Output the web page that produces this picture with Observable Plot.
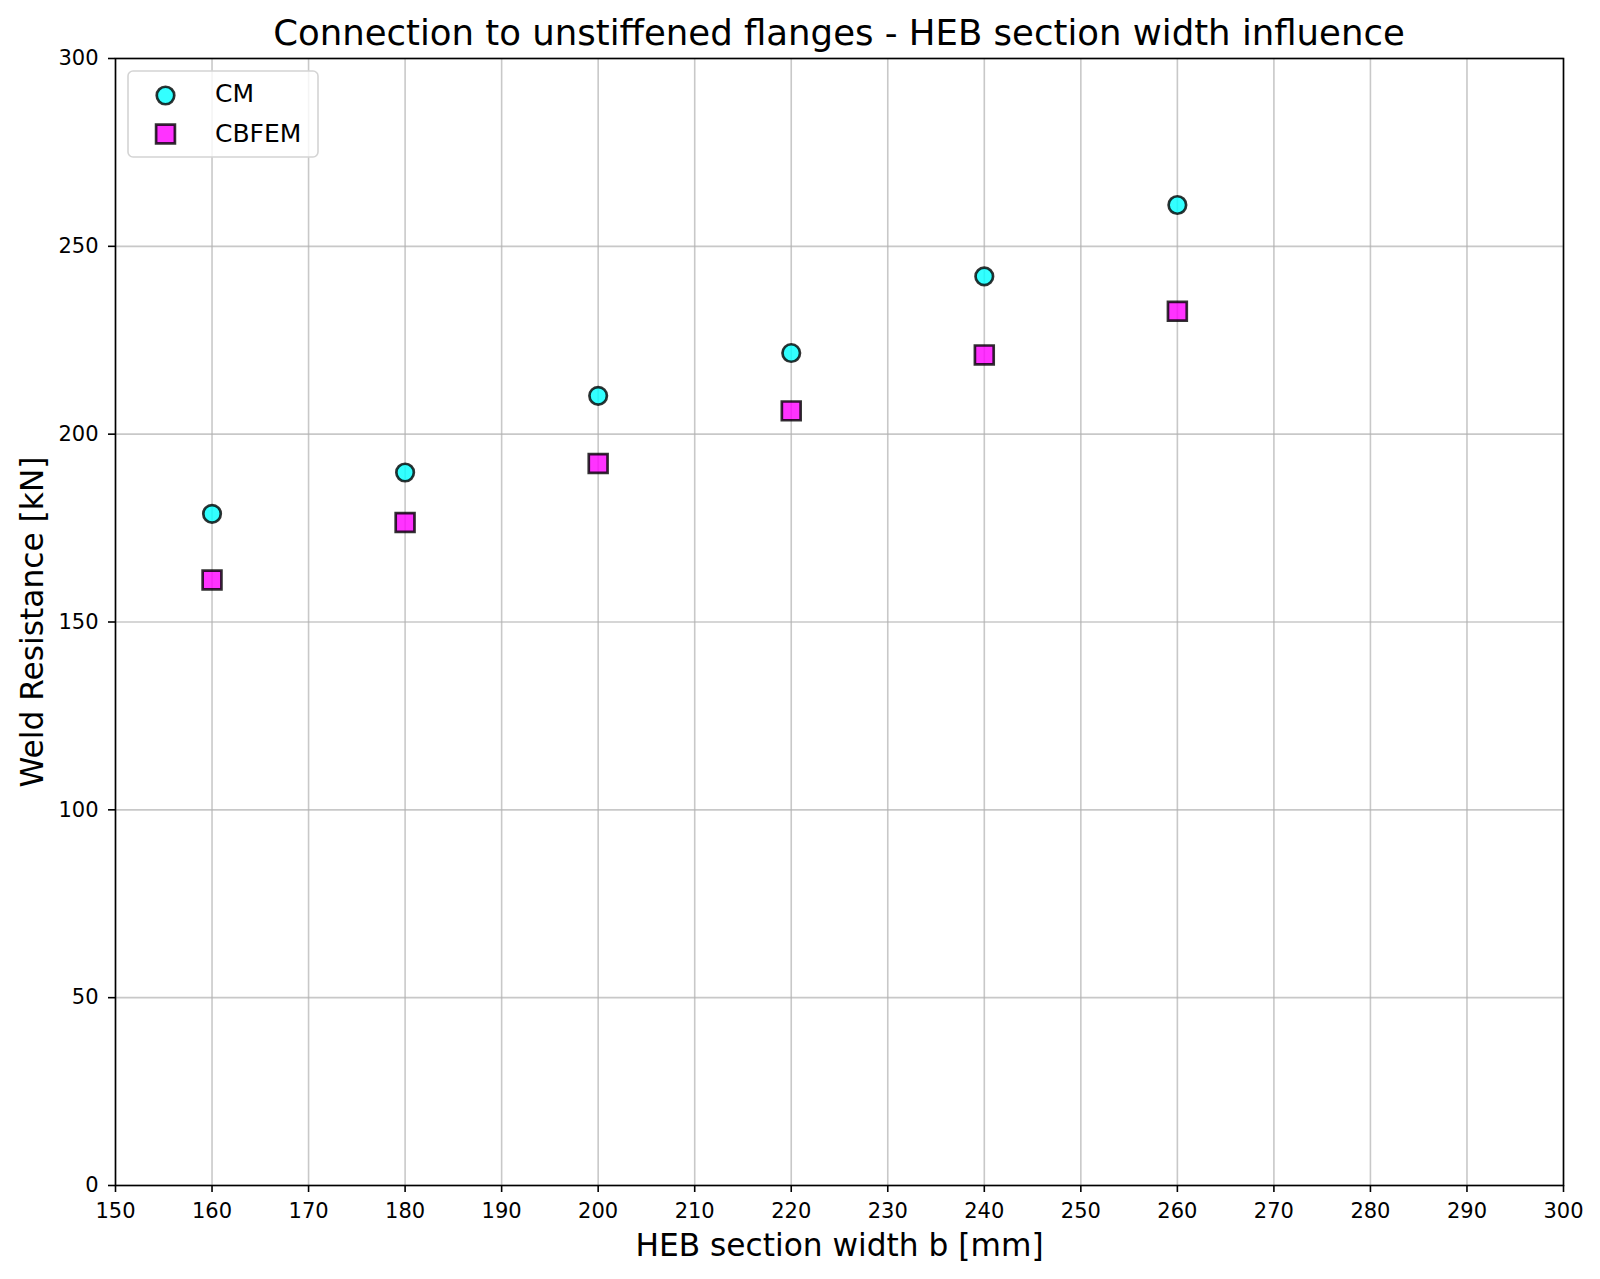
<!DOCTYPE html>
<html><head><meta charset="utf-8">
<script src="https://cdn.jsdelivr.net/npm/d3@7"></script>
<script src="https://cdn.jsdelivr.net/npm/@observablehq/plot@0.6"></script>
<style>
body{margin:0;background:#fff;font-family:"DejaVu Sans",sans-serif;}
#wrap{position:relative;width:1600px;height:1279px;}
#title{box-sizing:border-box;height:40px;padding-top:15px;padding-left:115px;width:1563px;text-align:center;font-size:35.5px;line-height:35.5px;color:#000;white-space:nowrap;overflow:visible;}
#legend{position:absolute;left:127px;top:70px;}
</style></head><body>
<div id="wrap"><div id="title">Connection to unstiffened flanges - HEB section width influence</div><div id="chart"></div><div id="legend"></div></div>
<script>
const widths = [160, 180, 200, 220, 240, 260];
const cmValues = [178.8, 189.8, 210.2, 221.6, 242.0, 261.0];
const cbfemValues = [161.2, 176.5, 192.2, 206.2, 221.1, 232.7];
const xTicks = [150,160,170,180,190,200,210,220,230,240,250,260,270,280,290,300];
const yTicks = [0,50,100,150,200,250,300];
const seriesNames = ["CM", "CBFEM"];

const cmData = widths.map((w,i) => ({b: w, v: cmValues[i]}));
const cbData = widths.map((w,i) => ({b: w, v: cbfemValues[i]}));

const gridStyle = {stroke: "#b0b0b0", strokeOpacity: 0.7, strokeWidth: 1.6};
const chart = Plot.plot({
  width: 1600, height: 1239,
  marginTop: 18, marginBottom: 94, marginLeft: 115, marginRight: 37,
  style: {fontFamily: "DejaVu Sans", fontSize: "21px", background: "white", color: "black"},
  x: {domain: [150, 300]},
  y: {domain: [0, 300]},
  marks: [
    Plot.gridX(xTicks, gridStyle),
    Plot.gridY(yTicks, gridStyle),
    Plot.dot(cmData, {x: "b", y: "v", symbol: "circle", r: 8.75, fill: "cyan", fillOpacity: 0.8, stroke: "black", strokeOpacity: 0.8, strokeWidth: 2.7}),
    Plot.dot(cbData, {x: "b", y: "v", symbol: "square", r: 10.6, fill: "magenta", fillOpacity: 0.8, stroke: "black", strokeOpacity: 0.8, strokeWidth: 2.7}),
    Plot.axisX(xTicks, {tickSize: 7, tickPadding: 11, strokeWidth: 1.6, label: null, fontSize: 21}),
    Plot.axisY(yTicks, {tickSize: 7, tickPadding: 10, strokeWidth: 1.6, label: null, fontSize: 21}),
    Plot.frame({stroke: "black", strokeWidth: 1.6}),
    Plot.text(["HEB section width b [mm]"], {text: d => d, frameAnchor: "bottom", textAnchor: "middle", dy: 70, lineAnchor: "bottom", fontSize: 31.25}),
    Plot.text(["Weld Resistance [kN]"], {text: d => d, frameAnchor: "left", textAnchor: "middle", dx: -73, rotate: -90, lineAnchor: "bottom", fontSize: 31.25})
  ]
});
document.getElementById("chart").appendChild(chart);

// legend
const lg = d3.select("#legend").append("svg").attr("width", 194).attr("height", 90)
  .style("font-family", "DejaVu Sans");
lg.append("rect").attr("x", 1).attr("y", 1).attr("width", 190).attr("height", 86).attr("rx", 5)
  .attr("fill", "white").attr("fill-opacity", 0.8).attr("stroke", "#d4d4d4").attr("stroke-width", 1.6);
lg.append("circle").attr("cx", 38.5).attr("cy", 25.5).attr("r", 8.75)
  .attr("fill", "cyan").attr("fill-opacity", 0.8).attr("stroke", "black").attr("stroke-opacity", 0.8).attr("stroke-width", 2.7);
lg.append("rect").attr("x", 38.5 - 9.4).attr("y", 64 - 9.4).attr("width", 18.8).attr("height", 18.8)
  .attr("fill", "magenta").attr("fill-opacity", 0.8).attr("stroke", "black").attr("stroke-opacity", 0.8).attr("stroke-width", 2.7);
lg.append("text").attr("x", 88).attr("y", 32).attr("font-size", 25).text(seriesNames[0]);
lg.append("text").attr("x", 88).attr("y", 72).attr("font-size", 25).text(seriesNames[1]);
</script>
</body></html>
